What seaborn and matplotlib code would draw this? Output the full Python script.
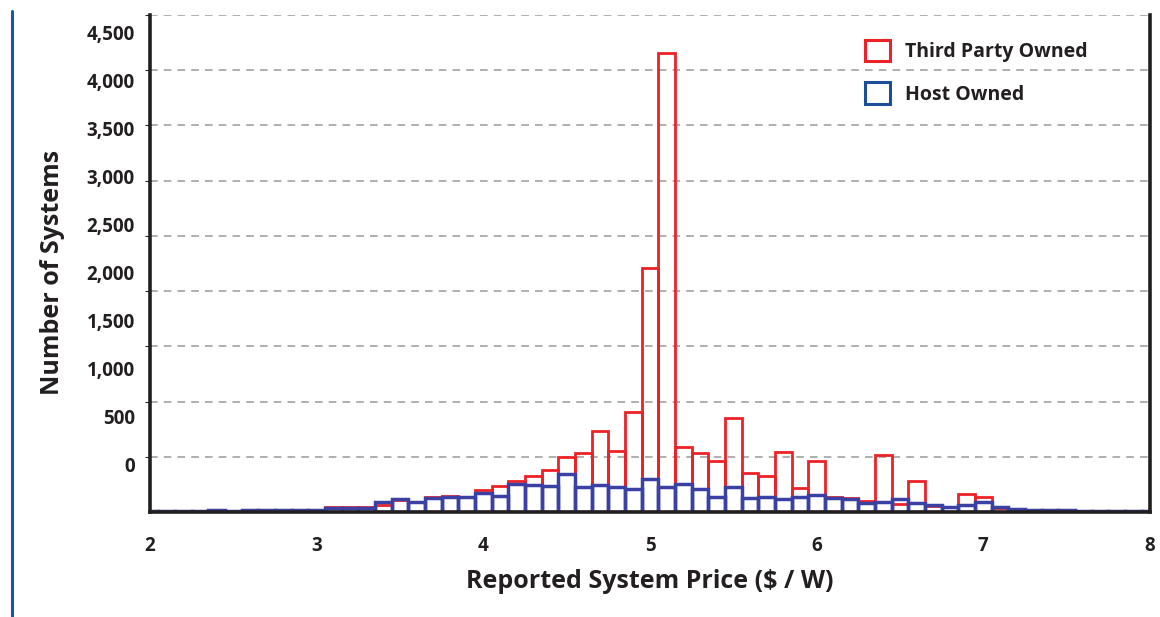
import numpy as np
import pandas as pd
import matplotlib
matplotlib.use("Agg")
import matplotlib.pyplot as plt
import seaborn as sns
from matplotlib.patches import Patch
from matplotlib.lines import Line2D

# bin centres ($/W), 0.1 wide
price_bins = [round(2.0 + 0.1 * i, 1) for i in range(61)]

third_party = [10, 8, 8, 10, 12, 10, 12, 15, 18, 20,
               15, 42, 45, 48, 60, 110, 93, 139, 145, 139,
               199, 238, 277, 322, 383, 494, 530, 735, 549, 901,
               2206, 4155, 590, 536, 464, 853, 350, 325, 540, 220,
               464, 139, 124, 99, 515, 70, 280, 54, 48, 163,
               139, 33, 20, 20, 15, 12, 8, 6, 6, 5, 5]

host_owned = [10, 8, 10, 12, 15, 12, 14, 18, 20, 20,
              15, 33, 40, 33, 90, 115, 93, 130, 137, 139,
              169, 145, 253, 244, 235, 341, 229, 244, 223, 205,
              296, 229, 250, 208, 133, 229, 124, 133, 118, 133,
              154, 124, 120, 79, 93, 118, 79, 63, 48, 63,
              93, 48, 25, 20, 18, 14, 10, 8, 8, 6, 5]

series_labels = ["Third Party Owned", "Host Owned"]
y_tick_labels = ["0", "500", "1,000", "1,500", "2,000", "2,500",
                 "3,000", "3,500", "4,000", "4,500"]

RED = "#ec2227"
BLUE_BAR = "#3a41a2"
BLUE_KEY = "#1b4f9c"
INK = "#231f20"

df = pd.DataFrame({"price": price_bins, "third": third_party, "host": host_owned})

sns.set_style("white")
plt.rcParams["font.family"] = ["Open Sans", "DejaVu Sans"]

fig = plt.figure(figsize=(11.6, 6.17), dpi=100)
ax = fig.add_axes([0.1293, 0.1702, 0.8621, 0.8055])

sns.histplot(data=df, x="price", weights="third", binwidth=0.1,
             binrange=(1.95, 8.05), fill=False, color=RED, linewidth=2.0, ax=ax)
sns.histplot(data=df, x="price", weights="host", binwidth=0.1,
             binrange=(1.95, 8.05), fill=False, color=BLUE_BAR, linewidth=2.5, ax=ax)

ax.set_xlim(2, 8)
ax.set_ylim(0, 4500)
ax.set_yticks(np.arange(500, 4501, 500))
ax.yaxis.grid(True, color="#9a9a9a", linestyle=(0, (5, 4)), linewidth=1.1)
ax.set_axisbelow(True)
ax.tick_params(axis="y", left=False, labelleft=False)
ax.set_xticks(range(2, 9))
ax.tick_params(axis="x", direction="out", length=8, width=2.6, color=INK,
               labelsize=13.5, labelcolor=INK, pad=9)
for t in ax.get_xticklabels():
    t.set_fontweight("bold")
ax.spines["top"].set_visible(False)
for s in ["left", "bottom", "right"]:
    ax.spines[s].set_color(INK)
    ax.spines[s].set_linewidth(2.6)
ax.set_ylabel("")
ax.set_xlabel("Reported System Price ($ / W)", fontsize=18, fontweight="bold",
              color=INK, labelpad=10)

# value labels sit on their own (offset) scale, as in the original
lab = ax.twinx()
lab.set_ylim(-490, 4687.5)
lab.yaxis.tick_left()
lab.set_yticks(np.arange(0, 4501, 500))
lab.set_yticklabels(y_tick_labels, fontsize=13.5, fontweight="bold", color=INK)
lab.tick_params(axis="y", left=False, right=False, length=0, pad=11)
for s in lab.spines.values():
    s.set_visible(False)

fig.text(0.045, 0.558, "Number of Systems", rotation=90, fontsize=18,
         fontweight="bold", color=INK, ha="center", va="center")

handles = [Patch(facecolor="white", edgecolor=RED, linewidth=2.2),
           Patch(facecolor="white", edgecolor=BLUE_KEY, linewidth=2.2)]
leg = ax.legend(handles, series_labels, loc="upper right",
                bbox_to_anchor=(0.955, 0.985), frameon=False,
                handlelength=1.3, handleheight=1.3, handletextpad=0.75,
                labelspacing=1.05, prop={"weight": "bold", "size": 14})
for t in leg.get_texts():
    t.set_color(INK)

# page rule on the left edge
fig.add_artist(Line2D([0.0105, 0.0105], [0.0, 0.982], transform=fig.transFigure,
                      color="#1d56a3", linewidth=2.2))

fig.savefig("out.png", dpi=100)
